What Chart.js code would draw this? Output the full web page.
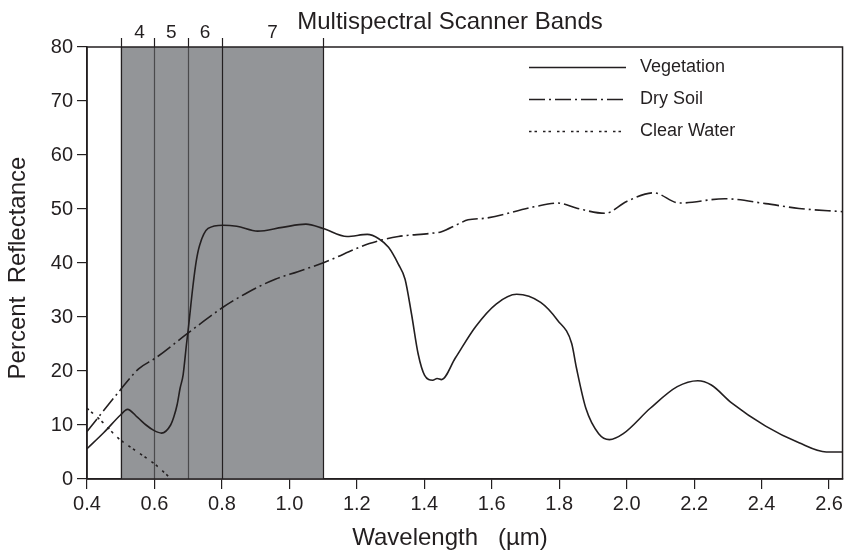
<!DOCTYPE html>
<html>
<head>
<meta charset="utf-8">
<script src="https://cdn.jsdelivr.net/npm/chart.js@4/dist/chart.umd.min.js"></script>
<style>
  html, body { margin: 0; padding: 0; background: #ffffff; }
  #c { display: block; width: 846px; height: 554px; }
</style>
</head>
<body>
<canvas id="c" width="846" height="554"></canvas>
<script>
// ---------- DATA ----------
const chartTitle = 'Multispectral Scanner Bands';
const xAxisTitle = 'Wavelength   (\u00b5m)';
const yAxisTitle = 'Percent  Reflectance';

const xTicks = [0.4, 0.6, 0.8, 1.0, 1.2, 1.4, 1.6, 1.8, 2.0, 2.2, 2.4, 2.6];
const yTicks = [0, 10, 20, 30, 40, 50, 60, 70, 80];

const bandEdges = [0.5, 0.6, 0.7, 0.8, 1.1];
const bandLabels = ['4', '5', '6', '7'];

const vegetationX = [0.40, 0.45, 0.50, 0.52, 0.55, 0.575, 0.598, 0.621, 0.648, 0.658, 0.667, 0.676, 0.685, 0.695, 0.701, 0.714, 0.724, 0.734, 0.759, 0.803, 0.844, 0.906, 0.979, 1.049, 1.10, 1.171, 1.231, 1.265, 1.294, 1.323, 1.343, 1.362, 1.382, 1.401, 1.425, 1.438, 1.451, 1.492, 1.552, 1.613, 1.674, 1.745, 1.795, 1.837, 1.851, 1.879, 1.917, 1.949, 1.99, 2.07, 2.15, 2.211, 2.251, 2.311, 2.412, 2.511, 2.592, 2.64];
const vegetationY = [5.6, 8.6, 11.9, 12.9, 11.4, 10.0, 9.0, 8.5, 10.0, 11.6, 13.7, 16.8, 19.3, 25.0, 28.2, 35.7, 40.4, 43.3, 46.4, 47.0, 46.8, 45.9, 46.6, 47.2, 46.4, 44.9, 45.3, 44.5, 42.9, 39.8, 37.0, 30.6, 23.1, 19.2, 18.3, 18.6, 18.4, 22.4, 28.2, 32.4, 34.2, 32.7, 29.4, 25.1, 20.6, 13.1, 8.4, 7.3, 8.4, 13.1, 17.1, 18.2, 17.4, 14.1, 9.8, 6.7, 5.0, 5.0];

const drySoilX = [0.40, 0.495, 0.553, 0.603, 0.699, 0.803, 0.875, 0.958, 1.025, 1.103, 1.237, 1.323, 1.421, 1.451, 1.50, 1.53, 1.582, 1.725, 1.795, 1.855, 1.936, 2.0, 2.08, 2.156, 2.291, 2.412, 2.511, 2.64];
const drySoilY = [8.8, 16.2, 20.4, 22.4, 27.0, 31.8, 34.5, 37.0, 38.4, 40.1, 43.6, 44.9, 45.5, 45.8, 47.2, 48.0, 48.3, 50.4, 51.1, 50.1, 49.2, 51.4, 53.0, 51.1, 51.9, 51.0, 50.1, 49.5];

const clearWaterX = [0.40, 0.45, 0.49, 0.55, 0.60, 0.65];
const clearWaterY = [13.1, 10.3, 7.7, 5.0, 2.8, 0.0];

// ---------- STYLE ----------
const ink = '#231f20';
const bandFill = '#939598';
const fontFamily = "'Liberation Sans', Arial, Helvetica, sans-serif";

function pts(xs, ys) { return xs.map((x, i) => ({ x: x, y: ys[i] })); }

const decorPlugin = {
  id: 'decor',
  beforeDraw(chart) {
    const c = chart.ctx;
    c.save();
    c.fillStyle = '#ffffff';
    c.fillRect(0, 0, chart.width, chart.height);
    c.restore();
  },
  beforeDatasetsDraw(chart) {
    const c = chart.ctx;
    const a = chart.chartArea;
    const xs = chart.scales.x;
    const x0 = xs.getPixelForValue(bandEdges[0]);
    const x1 = xs.getPixelForValue(bandEdges[bandEdges.length - 1]);
    c.save();
    c.fillStyle = bandFill;
    c.fillRect(x0, a.top, x1 - x0, a.bottom - a.top);
    c.lineWidth = 1.2;
    bandEdges.forEach((v, i) => {
      const px = Math.round(xs.getPixelForValue(v)) + 0.5;
      c.strokeStyle = ink;
      c.beginPath();
      c.moveTo(px, a.top - 9);
      c.lineTo(px, a.top);
      c.stroke();
      c.strokeStyle = (i === 1 || i === 2) ? '#4a4a4c' : ink;
      c.beginPath();
      c.moveTo(px, a.top);
      c.lineTo(px, a.bottom);
      c.stroke();
    });
    c.restore();
  },
  afterDatasetsDraw(chart) {
    const c = chart.ctx;
    const a = chart.chartArea;
    const xs = chart.scales.x;
    c.save();
    // frame
    c.strokeStyle = ink;
    c.lineWidth = 1.5;
    c.strokeRect(a.left, a.top, a.right - a.left, a.bottom - a.top);
    // band labels
    c.fillStyle = ink;
    c.font = '19px ' + fontFamily;
    c.textAlign = 'center';
    c.textBaseline = 'alphabetic';
    bandLabels.forEach((lab, i) => {
      const cx = (xs.getPixelForValue(bandEdges[i]) + xs.getPixelForValue(bandEdges[i + 1])) / 2;
      c.fillText(lab, cx + (i === 0 ? 2 : 0), 38);
    });
    // chart title
    c.font = '24px ' + fontFamily;
    c.fillText(chartTitle, 450, 29);
    // x axis title
    c.font = '24px ' + fontFamily;
    c.fillText(xAxisTitle, 450, 545);
    // y axis title
    c.save();
    c.translate(25, 268);
    c.rotate(-Math.PI / 2);
    c.fillText(yAxisTitle, 0, 0);
    c.restore();
    // legend
    const lx0 = 529, lx1 = 626, tx = 640;
    const rows = [67, 99, 131];
    c.font = '18px ' + fontFamily;
    c.textAlign = 'left';
    c.textBaseline = 'middle';
    chart.data.datasets.forEach((ds, i) => {
      const y = rows[i];
      c.save();
      c.strokeStyle = ds.borderColor;
      c.lineWidth = ds.borderWidth;
      c.setLineDash(ds.borderDash || []);
      c.beginPath();
      c.moveTo(lx0, y + 0.5);
      c.lineTo(lx1, y + 0.5);
      c.stroke();
      c.restore();
      c.fillText(ds.label, tx, y);
    });
    c.restore();
  }
};

const lineCommon = {
  borderColor: ink,
  borderWidth: 1.6,
  pointRadius: 0,
  fill: false,
  cubicInterpolationMode: 'monotone'
};

new Chart(document.getElementById('c').getContext('2d'), {
  type: 'line',
  data: {
    datasets: [
      Object.assign({ label: 'Vegetation', data: pts(vegetationX, vegetationY), borderDash: [] }, lineCommon),
      Object.assign({ label: 'Dry Soil', data: pts(drySoilX, drySoilY), borderDash: [16, 4, 2, 4] }, lineCommon),
      Object.assign({ label: 'Clear Water', data: pts(clearWaterX, clearWaterY), borderDash: [2.5, 3, 2.5, 6] }, lineCommon)
    ]
  },
  options: {
    responsive: false,
    animation: false,
    devicePixelRatio: 1,
    layout: { padding: { top: 47, right: 3, left: 0, bottom: 0 } },
    plugins: {
      legend: { display: false },
      tooltip: { enabled: false },
      title: { display: false }
    },
    scales: {
      x: {
        type: 'linear',
        min: 0.4,
        max: 2.64,
        afterBuildTicks: s => { s.ticks = xTicks.map(v => ({ value: v })); },
        afterFit: s => { s.height = 75; },
        ticks: {
          color: ink,
          font: { family: fontFamily, size: 20 },
          padding: 3,
          maxRotation: 0,
          autoSkip: false,
          callback: v => Number(v).toFixed(1)
        },
        grid: { drawOnChartArea: false, drawTicks: true, tickLength: 10, color: ink, lineWidth: 1.2 },
        border: { display: true, color: ink, width: 1.5 }
      },
      y: {
        type: 'linear',
        min: 0,
        max: 80,
        afterBuildTicks: s => { s.ticks = yTicks.map(v => ({ value: v })); },
        afterFit: s => { s.width = 87; },
        ticks: {
          color: ink,
          font: { family: fontFamily, size: 20 },
          padding: 4,
          autoSkip: false
        },
        grid: { drawOnChartArea: false, drawTicks: true, tickLength: 10, color: ink, lineWidth: 1.2 },
        border: { display: true, color: ink, width: 1.5 }
      }
    }
  },
  plugins: [decorPlugin]
});
</script>
</body>
</html>
